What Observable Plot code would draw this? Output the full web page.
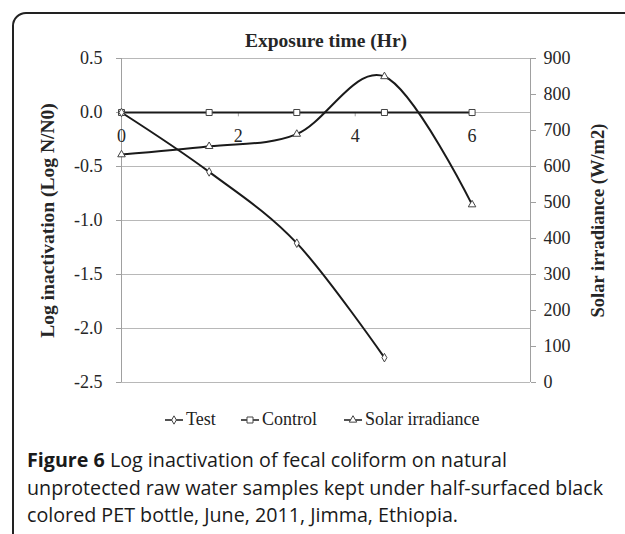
<!DOCTYPE html>
<html>
<head>
<meta charset="utf-8">
<script src="https://cdn.jsdelivr.net/npm/d3@7"></script>
<script src="https://cdn.jsdelivr.net/npm/@observablehq/plot@0.6"></script>
<style>
  html, body { margin: 0; padding: 0; background: #fff; }
  #wrap { position: relative; width: 625px; height: 534px; overflow: hidden; background: #fff; }
  #frame { position: absolute; left: 12px; top: 12px; width: 650px; height: 540px; border: 2px solid #222; border-radius: 14px; box-sizing: border-box; }
  #chart { position: absolute; left: 0; top: 0; }
  .leg { position: absolute; top: 409px; font-family: "Liberation Serif", serif; font-size: 18px; color: #222; line-height: 20px; white-space: nowrap; }
  #caption { position: absolute; left: 27px; top: 446px; width: 600px; font-family: "Open Sans", sans-serif; font-size: 19.7px; line-height: 27.5px; color: #1a1a1a; white-space: nowrap; }
  #caption b { font-weight: 700; }
</style>
</head>
<body>
<div id="wrap">
  <div id="frame"></div>
  <div id="chart"></div>
  <div class="leg" style="left:186px">Test</div>
  <div class="leg" style="left:262px">Control</div>
  <div class="leg" style="left:365px">Solar irradiance</div>
  <div id="caption"><b>Figure 6</b> Log inactivation of fecal coliform on natural<br>unprotected raw water samples kept under half-surfaced black<br>colored PET bottle, June, 2011, Jimma, Ethiopia.</div>
</div>
<script>
// ---- data ----
const xHours = [0, 1.5, 3, 4.5, 6];
const testLog = [0, -0.55, -1.21, -2.27];
const controlLog = [0, 0, 0, 0, 0];
const solarWm2 = [633, 656, 690, 850, 494];
const leftTicks = [0.5, 0.0, -0.5, -1.0, -1.5, -2.0, -2.5];
const rightTicks = [0, 100, 200, 300, 400, 500, 600, 700, 800, 900];
const xTicks = [0, 2, 4, 6];
const seriesNames = ["Test", "Control", "Solar irradiance"];

// right axis (W/m2, 0..900) mapped onto left axis (-2.5..0.5)
const leftDomain = [-2.5, 0.5];
const rightDomain = [0, 900];
const toLeft = s => leftDomain[0] + (s - rightDomain[0]) / (rightDomain[1] - rightDomain[0]) * (leftDomain[1] - leftDomain[0]);
const fromLeft = v => rightDomain[0] + (v - leftDomain[0]) / (leftDomain[1] - leftDomain[0]) * (rightDomain[1] - rightDomain[0]);

const testRows = testLog.map((v, i) => ({x: xHours[i], y: v}));
const controlRows = controlLog.map((v, i) => ({x: xHours[i], y: v}));
const solarRows = solarWm2.map((v, i) => ({x: xHours[i], y: toLeft(v)}));
const xTickRows = xTicks.map(t => ({t, y: 0}));

const serif = "'Liberation Serif', 'Times New Roman', serif";
const lineColor = "#1a1a1a";
const gridColor = "#b8b8b8";
const axisColor = "#a0a0a0";
const textColor = "#262626";

const chart = Plot.plot({
  width: 625,
  height: 440,
  marginLeft: 121,
  marginRight: 95,
  marginTop: 58,
  marginBottom: 58,
  style: {fontFamily: serif, fontSize: "18px", background: "transparent"},
  x: {domain: [0, 7], axis: null},
  y: {domain: leftDomain, axis: null},
  marks: [
    Plot.ruleY(leftTicks, {stroke: gridColor, strokeWidth: 1}),
    Plot.ruleX([0, 7], {stroke: axisColor, strokeWidth: 1}),
    Plot.axisY(leftTicks, {anchor: "left", tickSize: 5, tickPadding: 14, stroke: axisColor, fill: textColor, fontSize: 18, tickFormat: d => d.toFixed(1), label: null}),
    Plot.axisY(rightTicks.map(toLeft), {anchor: "right", tickSize: 5, tickPadding: 8, stroke: axisColor, fill: textColor, fontSize: 18, tickFormat: d => String(Math.round(fromLeft(d))), label: null}),
    Plot.ruleX(xTickRows, {x: "t", y1: 0, y2: -0.04, stroke: axisColor}),
    Plot.text(xTickRows, {x: "t", y: "y", dy: 24, text: d => String(d.t), fontSize: 18, fill: textColor}),
    Plot.text(["Exposure time (Hr)"], {frameAnchor: "top", dy: -18, lineAnchor: "middle", fontWeight: "bold", fontSize: 19.5, fill: textColor}),
    Plot.text(["Log inactivation (Log N/N0)"], {frameAnchor: "left", dx: -74, rotate: -90, textAnchor: "middle", lineAnchor: "middle", fontWeight: "bold", fontSize: 19.5, fill: textColor}),
    Plot.text(["Solar irradiance (W/m2)"], {frameAnchor: "right", dx: 68, rotate: -90, textAnchor: "middle", lineAnchor: "middle", fontWeight: "bold", fontSize: 18.5, fill: textColor}),
    Plot.line(controlRows, {x: "x", y: "y", stroke: lineColor, strokeWidth: 2}),
    Plot.line(solarRows, {x: "x", y: "y", stroke: lineColor, strokeWidth: 2, curve: "cardinal"}),
    Plot.line(testRows, {x: "x", y: "y", stroke: lineColor, strokeWidth: 2, curve: "cardinal"}),
    Plot.dot(controlRows, {x: "x", y: "y", symbol: "square", r: 3.4, fill: "white", stroke: "#444", strokeWidth: 1}),
    Plot.dot(solarRows, {x: "x", y: "y", symbol: "triangle", r: 2.8, fill: "white", stroke: "#444", strokeWidth: 1}),
    Plot.dot(testRows, {x: "x", y: "y", symbol: "diamond", r: 2.6, fill: "white", stroke: "#444", strokeWidth: 1})
  ]
});
document.getElementById("chart").appendChild(chart);

// legend markers (small icons beside the real-text labels)
const legendIcons = [
  {left: 165, type: d3.symbolDiamond, size: 20},
  {left: 241, type: d3.symbolSquare, size: 36},
  {left: 344, type: d3.symbolTriangle, size: 24}
];
document.querySelectorAll(".leg").forEach((el, i) => {
  const ic = legendIcons[i];
  const svg = d3.create("svg").attr("width", 18).attr("height", 12)
    .style("position", "absolute").style("left", (ic.left - parseFloat(el.style.left)) + "px").style("top", "5px");
  svg.append("line").attr("x1", 0).attr("x2", 18).attr("y1", 6).attr("y2", 6).attr("stroke", lineColor).attr("stroke-width", 1.5);
  svg.append("path").attr("d", d3.symbol(ic.type, ic.size)()).attr("transform", "translate(9,6)")
    .attr("fill", "white").attr("stroke", "#444").attr("stroke-width", 1);
  el.appendChild(svg.node());
});
</script>
</body>
</html>
